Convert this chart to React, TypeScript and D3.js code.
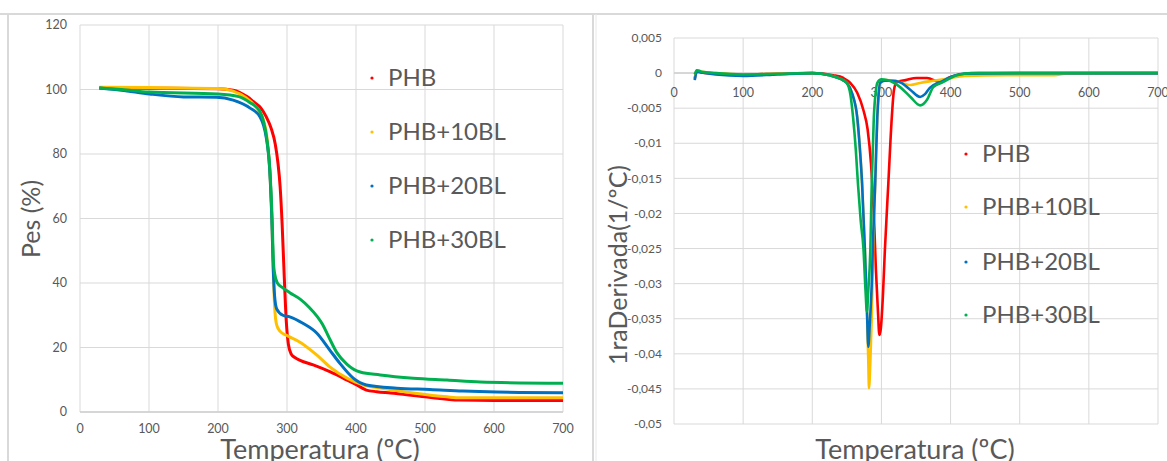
import React from 'react';
import * as d3 from 'd3';

// series order and colours (Excel palette)
const seriesNames = ['PHB', 'PHB+10BL', 'PHB+20BL', 'PHB+30BL'];
const seriesColors = ['#ff0000', '#ffc000', '#0070c0', '#00b050'];

// TGA curves: [temperature ºC, weight %]
const tgaPHB: [number, number][] = [
  [28, 100.5], [100, 100.4], [200, 100.2], [222, 99.8], [242, 97.8], [251, 96.3], [262, 94.3], [270, 91.5],
  [277, 88], [283, 83], [287, 77], [290, 70], [293, 58], [296, 42], [299, 28], [302, 21], [306, 18],
  [312, 16.8], [319, 16], [338, 14.6], [362, 12.5], [387, 9.9], [401, 8.4], [415, 6.8], [430, 6.3], [450, 5.9],
  [500, 4.7], [550, 3.7], [600, 3.6], [700, 3.6],
];
const tgaPHB10: [number, number][] = [
  [28, 100.7], [100, 100.6], [200, 100.3], [222, 99.5], [240, 97.5], [255, 94.5], [265, 91], [271, 85],
  [275, 75], [278, 60], [280, 45], [282, 33], [285, 27], [290, 25], [300, 23.7], [320, 21.5], [343, 17.7],
  [362, 14], [387, 10.5], [410, 8.4], [435, 7.4], [483, 5.9], [532, 4.7], [551, 4.4], [600, 4.4], [700, 4.4],
];
const tgaPHB20: [number, number][] = [
  [28, 100.5], [60, 99.8], [101, 98.6], [150, 97.7], [198, 97.6], [222, 96.7], [246, 94.3], [261, 91.5],
  [270, 85], [275, 75], [278, 60], [280, 45], [282, 36], [285, 32], [294, 30], [304, 29.5], [323, 27.5],
  [343, 24.5], [362, 19.2], [377, 15], [396, 10.5], [415, 8.4], [459, 7.4], [507, 7], [555, 6.5], [604, 6.2],
  [700, 6.0],
];
const tgaPHB30: [number, number][] = [
  [28, 100.5], [60, 100], [100, 99.2], [200, 98.6], [230, 97.8], [246, 96], [260, 93.5], [271, 84.3],
  [276, 72], [279, 56], [280, 48], [282, 43], [286, 40], [294, 38.5], [304, 37], [319, 35], [332, 32.5],
  [343, 29.8], [352, 27], [360, 23.5], [372, 18.5], [387, 14.8], [406, 12.4], [435, 11.5], [483, 10.5],
  [532, 9.9], [580, 9.3], [700, 8.9],
];

// DTG curves: [temperature ºC, 1st derivative 1/ºC]
const dtgPHB: [number, number][] = [
  [30, -0.0008], [33, 0.0003], [40, 0.0001], [60, -0.0001], [100, -0.0002], [150, -0.0001], [200, 0],
  [230, -0.0003], [245, -0.0007], [255, -0.0014], [265, -0.0028], [274, -0.0053], [280, -0.008], [285, -0.013],
  [289, -0.02], [292, -0.028], [295, -0.034], [297, -0.0373], [299, -0.0365], [302, -0.032], [305, -0.0252],
  [310, -0.0157], [315, -0.0063], [318, -0.0025], [322, -0.0013], [335, -0.001], [351, -0.0007], [366, -0.0007],
  [385, -0.0013], [399, -0.0006], [415, -0.0002], [440, 0], [700, 0],
];
const dtgPHB10: [number, number][] = [
  [30, -0.0007], [33, 0.0004], [40, 0.0002], [60, 0], [100, -0.0002], [150, -0.0001], [200, 0],
  [225, -0.0003], [240, -0.0008], [250, -0.0014], [258, -0.003], [265, -0.0063], [269, -0.011], [272, -0.0157],
  [276, -0.025], [279, -0.0338], [281, -0.041], [282, -0.0449], [284, -0.041], [286, -0.0348], [288, -0.0252],
  [291, -0.0157], [294, -0.0063], [296, -0.003], [298, -0.0014], [305, -0.001], [320, -0.0011], [342, -0.0017],
  [356, -0.0014], [375, -0.0011], [395, -0.0008], [420, -0.0004], [480, -0.0003], [550, -0.0003], [570, 0],
  [700, 0.0001],
];
const dtgPHB20: [number, number][] = [
  [30, -0.001], [33, 0.0002], [40, 0.0001], [60, -0.0002], [100, -0.0004], [150, -0.0002], [200, 0],
  [225, -0.0003], [240, -0.0008], [250, -0.0014], [258, -0.003], [265, -0.0063], [269, -0.011], [272, -0.0157],
  [276, -0.025], [279, -0.0335], [281, -0.039], [283, -0.036], [286, -0.03], [288, -0.0235], [291, -0.0157],
  [294, -0.0063], [296, -0.003], [298, -0.0014], [305, -0.0011], [315, -0.0011], [327, -0.0013], [342, -0.0024],
  [356, -0.0034], [363, -0.003], [370, -0.0021], [385, -0.0013], [404, -0.0004], [420, -0.0001], [500, 0],
  [700, 0],
];
const dtgPHB30: [number, number][] = [
  [30, -0.0002], [33, 0.0004], [40, 0.0002], [60, 0], [100, -0.0002], [150, -0.0001], [200, 0],
  [225, -0.0003], [240, -0.0008], [250, -0.0014], [255, -0.003], [259, -0.0063], [263, -0.011], [266, -0.0157],
  [270, -0.021], [274, -0.025], [277, -0.031], [279, -0.034], [281, -0.031], [284, -0.025], [286, -0.0157],
  [289, -0.0063], [292, -0.0025], [294, -0.0014], [300, -0.0009], [308, -0.001], [318, -0.0014], [327, -0.002],
  [342, -0.0034], [356, -0.0046], [366, -0.0038], [375, -0.002], [389, -0.0013], [409, -0.0003], [430, 0],
  [700, 0],
];

const tempTicks = [0, 100, 200, 300, 400, 500, 600, 700];
const weightTicks = [0, 20, 40, 60, 80, 100, 120];
const derivTicks = [0.005, 0, -0.005, -0.01, -0.015, -0.02, -0.025, -0.03, -0.035, -0.04, -0.045, -0.05];

const tgaSeries = [tgaPHB, tgaPHB10, tgaPHB20, tgaPHB30];
const dtgSeries = [dtgPHB, dtgPHB10, dtgPHB20, dtgPHB30];

const FONT = 'Lato, "Open Sans", sans-serif';
const GRID = '#d9d9d9';
const TXT = '#595959';

const fmtComma = (v: number) => (v === 0 ? '0' : String(v).replace('.', ','));

function Legend({ x, ys }: { x: number; ys: number[] }) {
  return (
    <g>
      {seriesNames.map((n, i) => (
        <g key={n}>
          <circle cx={x} cy={ys[i]} r={1.6} fill={seriesColors[i]} />
          <text x={x + 16} y={ys[i]} dy="0.35em" fontSize={24} fill={TXT} fontFamily={FONT}>{n}</text>
        </g>
      ))}
    </g>
  );
}

function TgaChart() {
  const x = d3.scaleLinear().domain([0, 700]).range([80, 563]);
  const y = d3.scaleLinear().domain([0, 120]).range([412, 25]);
  const line = d3.line<[number, number]>().x(d => x(d[0])).y(d => y(d[1])).curve(d3.curveMonotoneX);
  return (
    <g>
      {tempTicks.map(t => (
        <line key={'vx' + t} x1={x(t)} x2={x(t)} y1={y(120)} y2={y(0)} stroke={GRID} />
      ))}
      {weightTicks.map(t => (
        <line key={'hy' + t} x1={x(0)} x2={x(700)} y1={y(t)} y2={y(t)} stroke={GRID} />
      ))}
      <line x1={x(0)} x2={x(700)} y1={y(0)} y2={y(0)} stroke="#cfcfcf" strokeWidth={1.5} />
      {weightTicks.map(t => (
        <text key={'ly' + t} x={67} y={y(t)} dy="0.35em" textAnchor="end" fontSize={12.5} fill={TXT} fontFamily={FONT}>{t}</text>
      ))}
      {tempTicks.map(t => (
        <text key={'lx' + t} x={x(t)} y={429} dy="0.35em" textAnchor="middle" fontSize={12.5} fill={TXT} fontFamily={FONT}>{t}</text>
      ))}
      {tgaSeries.map((s, i) => (
        <path key={i} d={line(s) || ''} fill="none" stroke={seriesColors[i]} strokeWidth={3} />
      ))}
      <text x={320} y={459} textAnchor="middle" fontSize={27} fill={TXT} fontFamily={FONT}>Temperatura (ºC)</text>
      <text transform="translate(40,219) rotate(-90)" textAnchor="middle" fontSize={25} fill={TXT} fontFamily={FONT}>Pes (%)</text>
      <Legend x={372} ys={[78, 132, 186, 240]} />
    </g>
  );
}

function DtgChart() {
  const x = d3.scaleLinear().domain([0, 700]).range([674, 1158]);
  const y = d3.scaleLinear().domain([-0.05, 0.005]).range([424, 38]);
  const line = d3.line<[number, number]>().x(d => x(d[0])).y(d => y(d[1])).curve(d3.curveMonotoneX);
  return (
    <g>
      {tempTicks.map(t => (
        <line key={'vx' + t} x1={x(t)} x2={x(t)} y1={y(0.005)} y2={y(-0.05)} stroke={GRID} />
      ))}
      {derivTicks.map(t => (
        <line key={'hy' + t} x1={x(0)} x2={x(700)} y1={y(t)} y2={y(t)} stroke={GRID} />
      ))}
      <line x1={x(0)} x2={x(700)} y1={y(0)} y2={y(0)} stroke="#cfcfcf" strokeWidth={1.5} />
      {derivTicks.map(t => (
        <text key={'ly' + t} x={662} y={y(t)} dy="0.35em" textAnchor="end" fontSize={12} fill={TXT} fontFamily={FONT}>{fmtComma(t)}</text>
      ))}
      {tempTicks.map(t => (
        <text key={'lx' + t} x={x(t)} y={y(0) + 20} dy="0.35em" textAnchor="middle" fontSize={12.5} fill={TXT} fontFamily={FONT}>{t}</text>
      ))}
      {dtgSeries.map((s, i) => (
        <path key={i} d={line(s) || ''} fill="none" stroke={seriesColors[i]} strokeWidth={2.6} />
      ))}
      <text x={915} y={459} textAnchor="middle" fontSize={27} fill={TXT} fontFamily={FONT}>Temperatura (ºC)</text>
      <text transform="translate(627,265) rotate(-90)" textAnchor="middle" fontSize={25} fill={TXT} fontFamily={FONT}>1raDerivada(1/ºC)</text>
      <Legend x={966} ys={[154, 207, 262, 315]} />
    </g>
  );
}

export default function App() {
  return (
    <svg width={1167} height={461} style={{ position: 'absolute', left: 0, top: 0, background: '#fff' }}>
      <line x1={0} x2={1167} y1={14} y2={14} stroke={GRID} strokeWidth={2} />
      <line x1={8} x2={8} y1={14} y2={461} stroke={GRID} strokeWidth={2} />
      <line x1={593} x2={593} y1={14} y2={461} stroke={GRID} strokeWidth={2} />
      <line x1={596} x2={596} y1={14} y2={461} stroke="#e8e8e8" strokeWidth={1} />
      <TgaChart />
      <DtgChart />
    </svg>
  );
}
